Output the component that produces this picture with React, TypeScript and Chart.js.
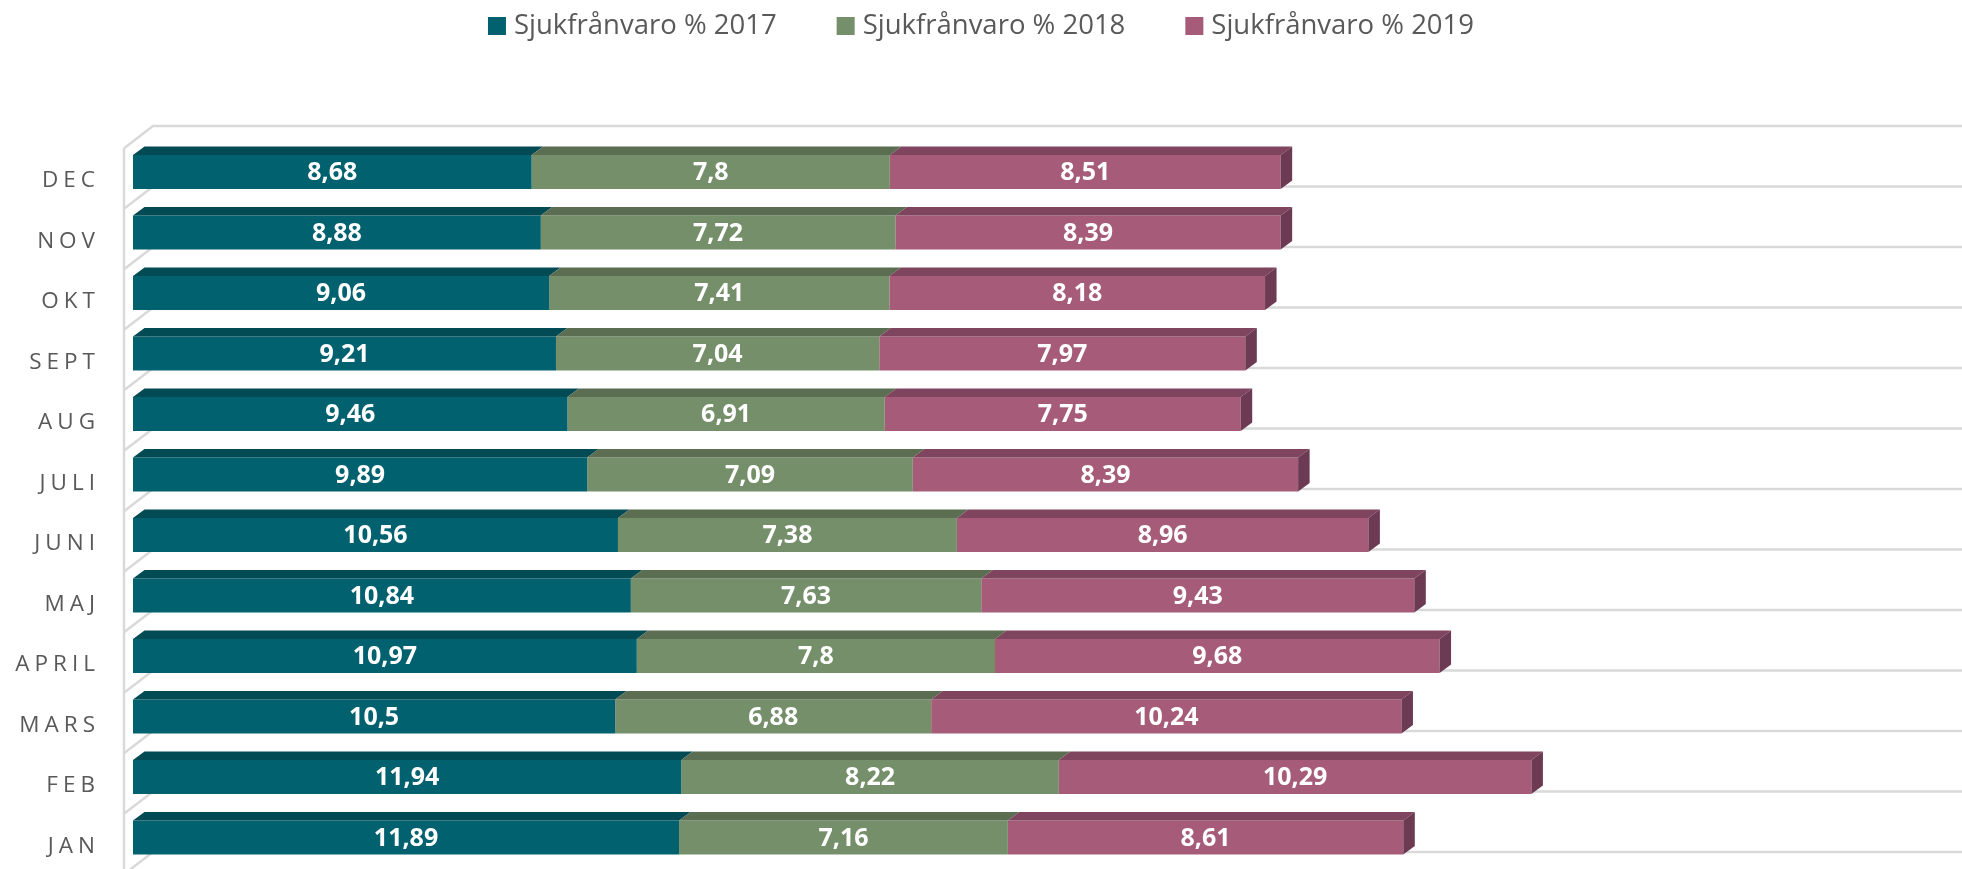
import React, { useEffect, useRef } from "react";
import { Chart, registerables } from "chart.js";

Chart.register(...registerables);

const categories = ["JAN", "FEB", "MARS", "APRIL", "MAJ", "JUNI", "JULI", "AUG", "SEPT", "OKT", "NOV", "DEC"];
const series2017 = [11.89, 11.94, 10.5, 10.97, 10.84, 10.56, 9.89, 9.46, 9.21, 9.06, 8.88, 8.68];
const series2018 = [7.16, 8.22, 6.88, 7.8, 7.63, 7.38, 7.09, 6.91, 7.04, 7.41, 7.72, 7.8];
const series2019 = [8.61, 10.29, 10.24, 9.68, 9.43, 8.96, 8.39, 7.75, 7.97, 8.18, 8.39, 8.51];
const seriesNames = ["Sjukfrånvaro % 2017", "Sjukfrånvaro % 2018", "Sjukfrånvaro % 2019"];

const frontColors = ["#02616E", "#758F6A", "#A65C78"];
const topColors = ["#024B55", "#5B6E52", "#7F445E"];
const sideColors = ["#01434B", "#4E6046", "#6C3A52"];

const DX = 11.5;
const DY = 8.5;

const threeD = {
  id: "threeD",
  beforeDatasetsDraw(chart: any) {
    const { ctx, chartArea } = chart;
    const n = categories.length;
    const pitch = (chartArea.bottom - chartArea.top) / n;
    const frontX = chartArea.left - 9;
    const backX = chartArea.left + 20;
    ctx.save();
    ctx.strokeStyle = "#D9D9D9";
    ctx.lineWidth = 2.5;
    ctx.beginPath();
    ctx.moveTo(frontX, chartArea.top + 6.5);
    ctx.lineTo(frontX, chart.height + 10);
    ctx.stroke();
    for (let k = 0; k <= n; k++) {
      const b = chartArea.top + k * pitch;
      ctx.beginPath();
      ctx.moveTo(frontX, b + 6.5);
      ctx.lineTo(backX, b - 15.75);
      ctx.lineTo(chart.width + 10, b - 15.75);
      ctx.stroke();
    }
    ctx.restore();
  },
  afterDatasetsDraw(chart: any) {
    const { ctx } = chart;
    const nds = chart.data.datasets.length;
    ctx.save();
    for (let d = 0; d < nds; d++) {
      const meta = chart.getDatasetMeta(d);
      meta.data.forEach((el: any, j: number) => {
        const p = el.getProps(["x", "y", "base", "height"], true);
        const x0 = Math.min(p.x, p.base);
        const x1 = Math.max(p.x, p.base);
        const yT = p.y - p.height / 2;
        const yB = p.y + p.height / 2;
        ctx.fillStyle = topColors[d];
        ctx.beginPath();
        ctx.moveTo(x0, yT);
        ctx.lineTo(x1, yT);
        ctx.lineTo(x1 + DX, yT - DY);
        ctx.lineTo(x0 + DX, yT - DY);
        ctx.closePath();
        ctx.fill();
        if (d === nds - 1) {
          ctx.fillStyle = sideColors[d];
          ctx.beginPath();
          ctx.moveTo(x1, yT);
          ctx.lineTo(x1 + DX, yT - DY);
          ctx.lineTo(x1 + DX, yB - DY);
          ctx.lineTo(x1, yB);
          ctx.closePath();
          ctx.fill();
        }
        const v = chart.data.datasets[d].data[j];
        ctx.fillStyle = "#FFFFFF";
        ctx.font = "bold 25px 'Open Sans'";
        ctx.textAlign = "center";
        ctx.textBaseline = "middle";
        ctx.fillText(String(v).replace(".", ","), (x0 + x1) / 2, p.y + 1);
      });
    }
    ctx.restore();
  },
  afterDraw(chart: any) {
    const { ctx, chartArea } = chart;
    const yScale = chart.scales.y;
    ctx.save();
    ctx.fillStyle = "#595959";
    ctx.font = "22.5px 'Open Sans'";
    ctx.textAlign = "right";
    ctx.textBaseline = "middle";
    const ls = 5;
    (ctx as any).letterSpacing = ls + "px";
    categories.forEach((c, i) => {
      const y = yScale.getPixelForValue(i);
      ctx.fillText(c, chartArea.left - 38 + ls, y + 9);
    });
    (ctx as any).letterSpacing = "0px";
    ctx.font = "27.5px 'Open Sans'";
    const box = 18;
    const gapBT = 8;
    const gapItems = 60;
    const widths = seriesNames.map((s) => ctx.measureText(s).width);
    const total = widths.reduce((a, w) => a + box + gapBT + w, 0) + gapItems * (seriesNames.length - 1);
    let x = (1962 - total) / 2;
    const ly = 26;
    ctx.textAlign = "left";
    seriesNames.forEach((s, i) => {
      ctx.fillStyle = frontColors[i];
      ctx.fillRect(x, ly - box / 2, box, box);
      ctx.fillStyle = "#595959";
      ctx.fillText(s, x + box + gapBT, ly);
      x += box + gapBT + widths[i] + gapItems;
    });
    ctx.restore();
  },
};

export default function App() {
  const ref = useRef<HTMLCanvasElement | null>(null);
  useEffect(() => {
    if (!ref.current) return;
    const chart = new Chart(ref.current, {
      type: "bar",
      data: {
        labels: categories,
        datasets: [series2017, series2018, series2019].map((data, i) => ({
          label: seriesNames[i],
          data,
          backgroundColor: frontColors[i],
          borderWidth: 0,
          categoryPercentage: 1,
          barPercentage: 0.562,
        })),
      },
      options: {
        indexAxis: "y",
        animation: false,
        responsive: false,
        maintainAspectRatio: false,
        devicePixelRatio: 1,
        layout: { padding: { top: 141.75, bottom: 1.25, left: 0, right: 0 } },
        plugins: {
          legend: { display: false },
          tooltip: { enabled: false },
        },
        scales: {
          x: { stacked: true, min: 0, max: 40, display: false },
          y: {
            stacked: true,
            reverse: true,
            grid: { display: false },
            border: { display: false },
            ticks: { display: false },
            afterFit: (scale: any) => {
              scale.width = 133;
            },
          },
        },
      },
      plugins: [threeD],
    });
    return () => chart.destroy();
  }, []);
  return (
    <div style={{ position: "fixed", left: 0, top: 0, width: 1962, height: 869, overflow: "hidden", background: "#fff" }}>
      <canvas ref={ref} width={1970} height={869} style={{ display: "block", width: 1970, height: 869 }} />
    </div>
  );
}
